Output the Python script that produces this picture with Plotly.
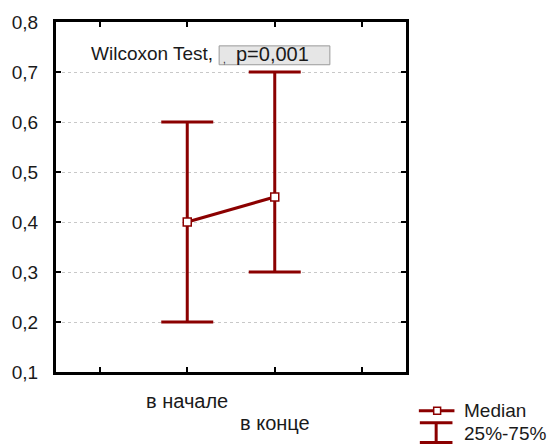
import plotly.graph_objects as go

# Data: median and interquartile range for two time points
categories = ["в начале", "в конце"]
cat_pos = [1, 2]
median = [0.40, 0.45]
q25 = [0.20, 0.30]
q75 = [0.60, 0.70]
y_ticks = [0.1, 0.2, 0.3, 0.4, 0.5, 0.6, 0.7, 0.8]

RED = "#8b0000"
TXT = "#1a1a1a"
FONT = "Liberation Sans, Arial, sans-serif"

W, H = 552, 446
L, R, T, B = 52, 146, 20, 74
PW, PH = W - L - R, H - T - B

err_plus = [h - m for h, m in zip(q75, median)]
err_minus = [m - l for m, l in zip(median, q25)]

fig = go.Figure()

# whiskers (25%-75%)
fig.add_trace(go.Scatter(
    x=cat_pos, y=median, mode="markers",
    marker=dict(size=1, color="rgba(0,0,0,0)"),
    error_y=dict(type="data", symmetric=False, array=err_plus, arrayminus=err_minus,
                 color=RED, thickness=3, width=26),
    showlegend=False, hoverinfo="skip",
))
# median line with markers
fig.add_trace(go.Scatter(
    x=cat_pos, y=median, mode="lines+markers",
    line=dict(color=RED, width=3),
    marker=dict(symbol="square", size=8, color="white", line=dict(color=RED, width=1.5)),
    showlegend=False,
))

fig.update_layout(
    width=W, height=H,
    margin=dict(l=L, r=R, t=T, b=B),
    paper_bgcolor="white", plot_bgcolor="white",
    separators=", ",
    font=dict(family=FONT, size=19, color=TXT),
    showlegend=False,
)
fig.update_xaxes(
    range=[-0.5, 3.5], tickvals=[0, 1, 2, 3], ticktext=["", "", "", ""],
    ticks="inside", ticklen=5, tickwidth=2, tickcolor="black",
    showline=True, linecolor="black", linewidth=3, mirror="ticks",
    showgrid=False, zeroline=False,
)
fig.update_yaxes(
    range=[0.1, 0.8], tickvals=y_ticks, tickformat=".1f",
    ticks="inside", ticklen=5, tickwidth=2, tickcolor="black",
    showline=True, linecolor="black", linewidth=3, mirror="ticks",
    showgrid=True, gridcolor="#c8c8c8", griddash="dot", gridwidth=1,
    zeroline=False, ticklabelstandoff=11,
    tickfont=dict(size=19, color=TXT),
)


# helpers: pixel position -> plot-area paper coordinates
def px(x):
    return (x - L) / PW


def py(y):
    return (H - B - y) / PH


# staggered category labels
label_y = [401, 423]
for c, p, yy in zip(categories, cat_pos, label_y):
    fig.add_annotation(x=p, y=py(yy), xref="x", yref="paper",
                       text=c, showarrow=False, font=dict(size=20, color=TXT),
                       xanchor="center", yanchor="middle")

# test annotation
fig.add_annotation(x=px(85), y=py(52), xref="paper", yref="paper",
                   text="Wilcoxon Test,", showarrow=False, xanchor="left", yanchor="middle",
                   font=dict(size=19, color=TXT))
shapes = [
    dict(type="rect", xref="paper", yref="paper", x0=px(217), x1=px(329), y0=py(44), y1=py(63),
         line=dict(color="#9a9a9a", width=1), fillcolor="#e6e6e6", layer="above"),
]
fig.add_annotation(x=px(232), y=py(52), xref="paper", yref="paper",
                   text="p=0,001", showarrow=False, xanchor="left", yanchor="middle",
                   font=dict(size=20, color=TXT))
fig.add_annotation(x=px(219), y=py(58), xref="paper", yref="paper",
                   text=",", showarrow=False, xanchor="left", yanchor="middle",
                   font=dict(size=10, color=TXT))

# legend glyphs
shapes += [
    dict(type="line", xref="paper", yref="paper", x0=px(419), x1=px(455), y0=py(411), y1=py(411),
         line=dict(color=RED, width=3)),
    dict(type="rect", xref="paper", yref="paper", x0=px(434), x1=px(441), y0=py(407.5), y1=py(414.5),
         line=dict(color=RED, width=1.5), fillcolor="white"),
    dict(type="line", xref="paper", yref="paper", x0=px(420), x1=px(453), y0=py(423), y1=py(423),
         line=dict(color=RED, width=3)),
    dict(type="line", xref="paper", yref="paper", x0=px(436.5), x1=px(436.5), y0=py(423), y1=py(443),
         line=dict(color=RED, width=3)),
    dict(type="line", xref="paper", yref="paper", x0=px(420), x1=px(453), y0=py(443), y1=py(443),
         line=dict(color=RED, width=3)),
]
fig.update_layout(shapes=shapes)
fig.add_annotation(x=px(463), y=py(411), xref="paper", yref="paper", text="Median",
                   showarrow=False, xanchor="left", yanchor="middle", font=dict(size=19, color=TXT))
fig.add_annotation(x=px(463), y=py(434), xref="paper", yref="paper", text="25%-75%",
                   showarrow=False, xanchor="left", yanchor="middle", font=dict(size=19, color=TXT))

fig.write_html("out.html")
